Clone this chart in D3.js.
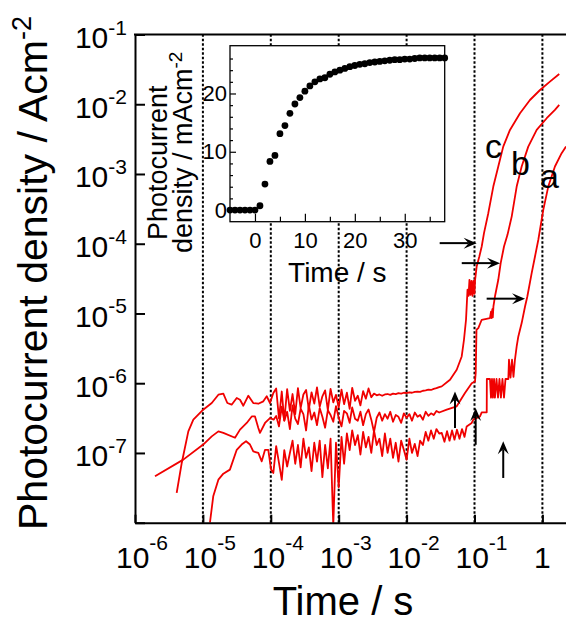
<!DOCTYPE html>
<html>
<head>
<meta charset="utf-8">
<script src="https://cdn.jsdelivr.net/npm/d3@7"></script>
<style>
  body { margin: 0; background: #fff; }
  svg { display: block; font-family: "Liberation Sans", Arial, sans-serif; }
</style>
</head>
<body>
<div class="svg-container"></div>
<script>
// ---- main plot data (time in s, current density in A cm^-2) ----
let xTickValues = [1e-6, 1e-5, 1e-4, 1e-3, 1e-2, 1e-1, 1]
let xTickExp = ['-6', '-5', '-4', '-3', '-2', '-1', null]
let gridValues = [1e-5, 1e-4, 1e-3, 1e-2, 1e-1, 1]
let yTickValues = [1e-8, 1e-7, 1e-6, 1e-5, 1e-4, 1e-3, 1e-2, 1e-1]
let yLabelValues = [1e-7, 1e-6, 1e-5, 1e-4, 1e-3, 1e-2, 1e-1]
let yLabelExp = ['-7', '-6', '-5', '-4', '-3', '-2', '-1']

// shared sample times of the noisy plateau
let noiseTime = [
  1.20e-4, 1.32e-4, 1.45e-4, 1.58e-4, 1.74e-4, 1.91e-4, 2.09e-4, 2.29e-4, 2.51e-4, 2.75e-4,
  3.02e-4, 3.31e-4, 3.63e-4, 3.98e-4, 4.37e-4, 4.79e-4, 5.25e-4, 5.75e-4, 6.31e-4, 6.92e-4,
  7.59e-4, 8.32e-4, 9.12e-4,
  1.00e-3, 1.10e-3, 1.20e-3, 1.32e-3, 1.45e-3, 1.58e-3, 1.74e-3, 1.91e-3, 2.09e-3, 2.29e-3,
  2.51e-3, 2.75e-3, 3.02e-3, 3.31e-3, 3.63e-3, 3.98e-3, 4.37e-3, 4.79e-3, 5.25e-3, 5.75e-3,
  6.31e-3, 6.92e-3, 7.59e-3, 8.32e-3, 9.12e-3,
  1.00e-2, 1.10e-2, 1.20e-2, 1.32e-2, 1.45e-2, 1.58e-2, 1.74e-2, 1.91e-2, 2.09e-2, 2.29e-2,
  2.51e-2, 2.75e-2, 3.02e-2
]

// plateau values, in units of 1e-7 A cm^-2
let noiseA = [
  1.25, 0.72, 0.41, 1.1, 0.64, 1.0,
  1.5, 0.7, 1.3, 0.62, 1.6, 0.85, 1.2, 0.55, 1.4, 0.75,
  1.5, 0.45, 1.3, 0.6, 1.6, 0.09, 1.4, 0.32, 1.7, 0.7,
  1.9, 1.1, 2.1, 1.3, 1.8, 0.95, 2.0, 1.2, 1.7, 1.0, 2.1, 1.3, 1.6, 0.9, 1.9,
  1.0, 1.6, 0.85, 1.4, 0.75, 1.5, 1.1, 0.8, 1.6, 1.0, 1.35, 0.9, 1.5,
  1.3, 2.0, 1.5, 2.1, 1.6, 2.2, 1.9
]
let noiseB = [
  3.4, 2.4, 4.6, 2.9, 3.9, 2.2, 4.8, 3.1, 2.6, 4.3, 3.6, 2.1, 4.9, 3.0, 3.8, 2.5, 4.4, 3.3, 2.3,
  4.1, 3.5, 2.8, 4.7, 3.2, 2.4, 4.0, 3.7, 2.7, 4.5, 3.1, 2.9, 3.9, 2.5, 3.6, 4.2, 3.0, 2.0,
  3.2, 3.8, 2.9, 3.6, 3.1, 3.9, 2.8, 3.5, 3.3, 2.7, 3.7, 3.2, 3.6, 2.9, 3.8, 3.3, 3.5, 3.0,
  3.9, 3.4, 3.7, 3.5, 4.0, 3.8
]
let noiseC = [
  8.4, 3.1, 7.6, 2.9, 8.2, 4.0, 7.0, 3.6, 8.5, 4.4, 6.9, 8.0, 4.2, 7.4, 5.1, 8.7, 4.6, 6.5, 7.9,
  4.1, 8.3, 5.3, 6.8, 4.5, 8.1, 5.0, 7.3, 4.3, 8.6, 5.6, 6.6, 4.8, 7.7, 6.0, 8.4, 6.3, 7.1,
  6.7, 6.9, 6.6, 6.9, 7.0, 6.8, 7.1, 7.0, 7.2, 7.1, 7.3, 7.2, 7.4, 7.3, 7.5, 7.6, 7.5, 7.8,
  7.9, 8.1, 8.0, 8.3, 8.5, 8.8
]

// onset part [t, J]
let earlyA = [[1.27e-5, 1.0e-8], [1.42e-5, 2.39e-8], [1.69e-5, 4.14e-8], [2.0e-5, 5.05e-8], [2.5e-5, 5.77e-8],
  [3.15e-5, 1.11e-7], [3.72e-5, 1.32e-7], [4.32e-5, 1.47e-7], [4.94e-5, 1.32e-7], [5.52e-5, 1.05e-7],
  [6.55e-5, 1.0e-7], [7.35e-5, 7.59e-8], [8.22e-5, 1.11e-7], [9.18e-5, 1.11e-7], [1.01e-4, 5.77e-8],
  [1.09e-4, 5.17e-8]]
let earlyB = [[1.97e-6, 4.62e-8], [5.14e-6, 8.02e-8], [1.01e-5, 1.32e-7], [1.35e-5, 1.73e-7], [1.69e-5, 2.04e-7],
  [2.0e-5, 1.94e-7], [2.97e-5, 1.65e-7], [3.52e-5, 2.16e-7], [4.42e-5, 2.69e-7], [5.24e-5, 3.34e-7],
  [5.85e-5, 3.34e-7], [6.55e-5, 2.28e-7], [6.93e-5, 1.94e-7], [8.22e-5, 2.69e-7], [9.73e-5, 3.17e-7],
  [1.1e-4, 3.0e-7]]
let earlyC = [[4.11e-6, 2.67e-8], [4.88e-6, 7.19e-8], [6.1e-6, 2.04e-7], [7.23e-6, 3.0e-7], [1.01e-5, 4.17e-7],
  [1.35e-5, 5.2e-7], [1.69e-5, 6.84e-7], [2.0e-5, 7.08e-7], [2.29e-5, 5.2e-7], [2.65e-5, 4.92e-7],
  [3.15e-5, 6.13e-7], [3.52e-5, 5.8e-7], [3.94e-5, 4.76e-7], [4.67e-5, 6.62e-7], [5.52e-5, 5.2e-7],
  [6.55e-5, 5.08e-7], [7.76e-5, 5.5e-7], [8.71e-5, 6.5e-7], [9.73e-5, 5.2e-7], [1.09e-4, 7.24e-7]]

// rise part [t, J]
let riseA = [[3.29e-2, 1.94e-7], [3.61e-2, 1.45e-7], [3.94e-2, 2.05e-7], [4.29e-2, 1.5e-7], [4.67e-2, 2.1e-7],
  [5.07e-2, 1.55e-7], [5.52e-2, 2.15e-7], [6.01e-2, 1.6e-7], [6.55e-2, 2.2e-7], [7.13e-2, 1.7e-7],
  [7.67e-2, 2.4e-7], [9.1e-2, 2.69e-7], [9.6e-2, 3.0e-7], [0.1205, 3.34e-7], [0.1277, 3.82e-7],
  [0.1514, 3.82e-7], [0.152, 1.15e-6], [0.169, 1.15e-6], [0.175, 6.2e-7], [0.181, 1.15e-6],
  [0.187, 6.2e-7], [0.194, 1.15e-6], [0.2, 6.2e-7], [0.211, 1.15e-6], [0.222, 6.2e-7],
  [0.233, 1.15e-6], [0.245, 6.2e-7], [0.258, 1.15e-6], [0.272, 6.2e-7], [0.286, 1.15e-6],
  [0.315, 1.15e-6], [0.322, 2.17e-6], [0.339, 1.2e-6], [0.357, 2.17e-6], [0.375, 1.23e-6],
  [0.394, 2.17e-6], [0.418, 3.37e-6], [0.442, 4.68e-6], [0.495, 7.28e-6], [0.555, 1.26e-5],
  [0.6, 1.75e-5], [0.695, 3.79e-5], [0.778, 6.56e-5], [0.871, 1.14e-4], [1.03, 3.06e-4],
  [1.22, 6.6e-4], [1.53, 1.28e-3], [1.92, 1.99e-3], [2.23, 2.47e-3]]
let riseB = [[3.9e-2, 4.17e-7], [5.47e-2, 4.66e-7], [7.24e-2, 7.24e-7], [9.1e-2, 1.0e-6], [0.1016, 1.06e-6],
  [0.1042, 1.40e-6], [0.107, 5.84e-6], [0.1138, 6.18e-6], [0.1277, 8.12e-6], [0.169, 8.59e-6],
  [0.175, 1.06e-5], [0.179, 8.6e-6], [0.183, 1.15e-5], [0.186, 8.8e-6], [0.19, 1.26e-5],
  [0.2, 1.75e-5], [0.224, 3.04e-5], [0.243, 5.27e-5], [0.272, 9.12e-5], [0.306, 1.34e-4],
  [0.353, 2.45e-4], [0.418, 6.6e-4], [0.495, 1.28e-3], [0.619, 2.47e-3], [0.824, 4.28e-3],
  [1.157, 6.3e-3], [1.53, 8.28e-3], [1.77, 9.77e-3]]
let riseC = [[3.29e-2, 9.0e-7], [4.36e-2, 1.12e-6], [5.47e-2, 1.56e-6], [6.48e-2, 2.42e-6], [7.0e-2, 4.2e-6],
  [7.5e-2, 8.12e-6], [7.89e-2, 2.19e-5], [8.17e-2, 1.79e-5], [8.43e-2, 3.04e-5], [8.73e-2, 1.85e-5],
  [9.03e-2, 2.94e-5], [9.35e-2, 1.79e-5], [9.66e-2, 2.94e-5], [1.0e-1, 1.91e-5], [1.02e-1, 3.04e-5],
  [0.1076, 4.71e-5], [0.1178, 6.56e-5], [0.1277, 9.12e-5], [0.138, 1.42e-4], [0.1596, 2.74e-4],
  [0.1892, 6.6e-4], [0.224, 1.28e-3], [0.265, 2.47e-3], [0.333, 4.28e-3], [0.468, 7.43e-3],
  [0.656, 1.15e-2], [0.923, 1.60e-2], [1.29, 2.11e-2], [1.77, 2.72e-2]]

// annotations in data coordinates
let curveLabels = [
  { name: 'c', t: 0.1428, j: 1.68e-3 },
  { name: 'b', t: 0.345, j: 9.7e-4 },
  { name: 'a', t: 0.922, j: 6.27e-4 }
]
let hArrows = [
  { t0: 0.0307, t1: 0.1076, j: 1.02e-4 },
  { t0: 0.0649, t1: 0.2377, j: 5.27e-5 },
  { t0: 0.151, t1: 0.555, j: 1.63e-5 }
]
let vArrows = [
  { t: 0.0516, j0: 2.28e-7, j1: 7.63e-7 },
  { t: 0.104, j0: 1.31e-7, j1: 4.42e-7 },
  { t: 0.265, j0: 4.38e-8, j1: 1.47e-7 }
]

// ---- inset data (time in s, photocurrent in mA cm^-2) ----
let insetTime = [-5, -4, -3, -2, -1, 0, 1, 2, 3, 4, 5, 6, 7, 8, 9, 10, 11, 12, 13, 14, 15, 16, 17, 18, 19,
  20, 21, 22, 23, 24, 25, 26, 27, 28, 29, 30, 31, 32, 33, 34, 35, 36, 37, 38]
let insetCurrent = [0, 0, 0, 0, 0, 0, 0.74, 4.46, 8.34, 9.37, 13.1, 14.5, 16.6, 18.2, 19.3, 20.4, 21.3, 22.0,
  22.5, 22.7, 23.3, 23.7, 24.0, 24.3, 24.6, 24.8, 25.0, 25.1, 25.3, 25.4, 25.5, 25.6, 25.7, 25.8, 25.8,
  25.9, 25.9, 26.0, 26.1, 26.1, 26.1, 26.1, 26.1, 26.1]
let insetXTicks = [0, 10, 20, 30]
let insetXMinor = [5, 15, 25, 35]
let insetYTicks = [0, 10, 20]
let insetYMinor = [2, 4, 6, 8, 12, 14, 16, 18, 22, 24, 26]

// ---- drawing ----
let width = 566
let height = 625
let red = '#f00000'

let timeScale = d3.scaleLog().domain([1e-6, 10]).range([135, 610.3])
let currentScale = d3.scaleLog().domain([1e-8, 1e-1]).range([522.7, 34.5])

let svg = d3.select('.svg-container')
  .append('svg')
  .attr('width', width)
  .attr('height', height)

svg.append('rect').attr('width', width).attr('height', height).attr('fill', '#fff')

svg.append('clipPath').attr('id', 'plot-clip')
  .append('rect')
  .attr('x', timeScale(1e-6))
  .attr('y', currentScale(1e-1))
  .attr('width', width - timeScale(1e-6))
  .attr('height', currentScale(1e-8) - currentScale(1e-1))

// dotted verticals
svg.append('g').selectAll('line')
  .data(gridValues)
  .enter()
  .append('line')
  .attr('x1', d => timeScale(d))
  .attr('x2', d => timeScale(d))
  .attr('y1', currentScale(1e-8))
  .attr('y2', currentScale(1e-1))
  .attr('stroke', '#000')
  .attr('stroke-width', 2)
  .attr('stroke-dasharray', '2.5,2')

function buildCurve (early, noise, rise) {
  let plateau = noiseTime.map((t, i) => [t, noise[i] * 1e-7])
  return early.concat(plateau).concat(rise)
}

let curves = [
  buildCurve(earlyA, noiseA, riseA),
  buildCurve(earlyB, noiseB, riseB),
  buildCurve(earlyC, noiseC, riseC)
]

let line = d3.line()
  .x(d => timeScale(d[0]))
  .y(d => currentScale(d[1]))

svg.append('g')
  .attr('clip-path', 'url(#plot-clip)')
  .selectAll('path')
  .data(curves)
  .enter()
  .append('path')
  .attr('d', line)
  .attr('fill', 'none')
  .attr('stroke', red)
  .attr('stroke-width', 1.8)
  .attr('stroke-linejoin', 'round')

// axes
let xAxis = d3.axisBottom(timeScale)
  .tickValues(xTickValues)
  .tickSizeInner(-8)
  .tickSizeOuter(0)
  .tickFormat('')

let yAxis = d3.axisLeft(currentScale)
  .tickValues(yTickValues)
  .tickSizeInner(-10)
  .tickSizeOuter(0)
  .tickFormat('')

svg.append('g')
  .attr('transform', `translate(0, ${currentScale(1e-8)})`)
  .call(xAxis)
  .call(g => g.selectAll('line, path').attr('stroke', '#000').attr('stroke-width', 2))

svg.append('g')
  .attr('transform', `translate(${timeScale(1e-6)}, 0)`)
  .call(yAxis)
  .call(g => g.selectAll('line, path').attr('stroke', '#000').attr('stroke-width', 2))

svg.append('line')
  .attr('x1', timeScale(1e-6) - 1)
  .attr('x2', width)
  .attr('y1', currentScale(1e-1))
  .attr('y2', currentScale(1e-1))
  .attr('stroke', '#000')
  .attr('stroke-width', 2)

// tick labels with superscripts
let yLabels = svg.append('g').selectAll('text')
  .data(yLabelValues)
  .enter()
  .append('text')
  .attr('x', timeScale(1e-6) - 8)
  .attr('y', d => currentScale(d) + 13.5)
  .attr('text-anchor', 'end')
  .style('font-size', '30px')
  .text('10')
yLabels.append('tspan')
  .attr('dy', -13.5)
  .style('font-size', '21px')
  .text((d, i) => yLabelExp[i])

let xLabels = svg.append('g').selectAll('text')
  .data(xTickValues)
  .enter()
  .append('text')
  .attr('x', (d, i) => timeScale(d) + (xTickExp[i] ? 7 : 0))
  .attr('y', 568)
  .attr('text-anchor', 'middle')
  .style('font-size', '30px')
  .text((d, i) => xTickExp[i] ? '10' : '1')
xLabels.filter((d, i) => xTickExp[i])
  .append('tspan')
  .attr('dy', -18)
  .style('font-size', '21px')
  .text((d, i) => xTickExp[i])

// axis titles
svg.append('text')
  .attr('x', 343)
  .attr('y', 615)
  .attr('text-anchor', 'middle')
  .style('font-size', '40px')
  .text('Time / s')

let yTitle = svg.append('text')
  .attr('transform', 'translate(47, 530) rotate(-90)')
  .attr('text-anchor', 'start')
  .style('font-size', '41px')
  .text('Photocurrent density / Acm')
yTitle.append('tspan')
  .attr('dy', -16)
  .style('font-size', '27px')
  .text('-2')

// curve letters
svg.append('g').selectAll('text')
  .data(curveLabels)
  .enter()
  .append('text')
  .attr('x', d => timeScale(d.t))
  .attr('y', d => currentScale(d.j))
  .style('font-size', '34px')
  .text(d => d.name)

// arrows
function arrowHead (tip, dir) {
  let px = -dir[1], py = dir[0]
  let back = [tip[0] - 13 * dir[0], tip[1] - 13 * dir[1]]
  let notch = [tip[0] - 8 * dir[0], tip[1] - 8 * dir[1]]
  return `M${tip[0]},${tip[1]}L${back[0] + 5.5 * px},${back[1] + 5.5 * py}` +
    `L${notch[0]},${notch[1]}L${back[0] - 5.5 * px},${back[1] - 5.5 * py}Z`
}

let arrowGroup = svg.append('g')
hArrows.forEach(a => {
  let x0 = timeScale(a.t0), x1 = timeScale(a.t1), yy = currentScale(a.j)
  arrowGroup.append('line')
    .attr('x1', x0).attr('x2', x1 - 8).attr('y1', yy).attr('y2', yy)
    .attr('stroke', '#000').attr('stroke-width', 2)
  arrowGroup.append('path').attr('d', arrowHead([x1, yy], [1, 0])).attr('fill', '#000')
})
vArrows.forEach(a => {
  let xx = timeScale(a.t), y0 = currentScale(a.j0), y1 = currentScale(a.j1)
  arrowGroup.append('line')
    .attr('x1', xx).attr('x2', xx).attr('y1', y0).attr('y2', y1 + 8)
    .attr('stroke', '#000').attr('stroke-width', 2)
  arrowGroup.append('path').attr('d', arrowHead([xx, y1], [0, -1])).attr('fill', '#000')
})

// ---- inset ----
let insetX = d3.scaleLinear().domain([-5, 38]).range([230, 444.7])
let insetY = d3.scaleLinear().domain([-2, 28.2]).range([221.7, 45.7])
let inset = svg.append('g')

inset.append('rect')
  .attr('x', insetX(-5))
  .attr('y', insetY(28.2))
  .attr('width', insetX(38) - insetX(-5))
  .attr('height', insetY(-2) - insetY(28.2))
  .attr('fill', '#fff')
  .attr('stroke', '#000')
  .attr('stroke-width', 1.3)

let inBottom = insetY(-2)
let inLeft = insetX(-5)

inset.append('g')
  .attr('transform', `translate(0, ${inBottom})`)
  .call(d3.axisBottom(insetX).tickValues(insetXMinor).tickSizeInner(-5).tickSizeOuter(0).tickFormat(''))
inset.append('g')
  .attr('transform', `translate(0, ${inBottom})`)
  .call(d3.axisBottom(insetX).tickValues(insetXTicks).tickSizeInner(-8).tickSizeOuter(0).tickPadding(11))
inset.append('g')
  .attr('transform', `translate(${inLeft}, 0)`)
  .call(d3.axisLeft(insetY).tickValues(insetYMinor).tickSizeInner(-3).tickSizeOuter(0).tickFormat(''))
inset.append('g')
  .attr('transform', `translate(${inLeft}, 0)`)
  .call(d3.axisLeft(insetY).tickValues(insetYTicks).tickSizeInner(-6).tickSizeOuter(0).tickPadding(3))

inset.selectAll('.domain').remove()
inset.selectAll('.tick line').attr('stroke', '#000').attr('stroke-width', 1.2)
inset.selectAll('.tick text')
  .attr('fill', '#000')
  .style('font-size', '22px')
  .style('font-family', '"Liberation Sans", Arial, sans-serif')

inset.selectAll('circle')
  .data(insetTime)
  .enter()
  .append('circle')
  .attr('cx', d => insetX(d))
  .attr('cy', (d, i) => insetY(insetCurrent[i]))
  .attr('r', 3.4)
  .attr('fill', '#000')

inset.append('text')
  .attr('x', (insetX(-5) + insetX(38)) / 2)
  .attr('y', 282)
  .attr('text-anchor', 'middle')
  .style('font-size', '28px')
  .text('Time / s')

inset.append('text')
  .attr('transform', 'translate(167, 240) rotate(-90)')
  .style('font-size', '27px')
  .text('Photocurrent')

let inTitle2 = inset.append('text')
  .attr('transform', 'translate(192, 253) rotate(-90)')
  .style('font-size', '27px')
  .text('density / mAcm')
inTitle2.append('tspan')
  .attr('dy', -10)
  .style('font-size', '19px')
  .text('-2')
</script>
</body>
</html>
